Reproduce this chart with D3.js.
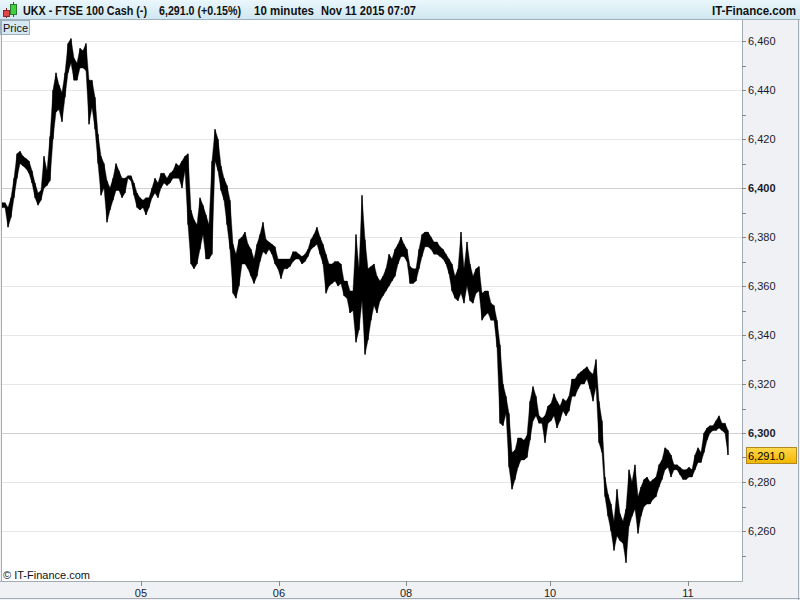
<!DOCTYPE html>
<html><head><meta charset="utf-8">
<script src="https://cdn.jsdelivr.net/npm/d3@7"></script>
<style>html,body{margin:0;padding:0;background:#fff;}svg{display:block;font-family:"Liberation Sans",Arial,sans-serif;}</style>
</head><body>
<svg id="c" width="800" height="600"></svg>
<script>
// 10-minute bars, high and low
const highs = [6394,6394,6392,6396,6404,6414,6415,6413,6412,6411,6407,6402,6398,6399,6413,6407,6421,6440,6447,6442,
6439,6447,6459,6461,6453,6451,6457,6456,6459,6444,6444,6437,6422,6413,6410,6403,6400,6404,6410,6407,
6404,6404,6405,6405,6402,6398,6396,6395,6396,6396,6400,6404,6402,6406,6406,6404,6406,6407,6410,6409,
6411,6413,6414,6391,6387,6385,6396,6393,6389,6385,6411,6424,6420,6409,6404,6401,6395,6377,6373,6379,
6380,6382,6377,6375,6371,6377,6381,6386,6379,6378,6377,6376,6371,6371,6371,6371,6371,6374,6374,6373,
6372,6373,6375,6379,6381,6384,6380,6377,6373,6369,6369,6370,6370,6369,6362,6362,6358,6358,6381,6367,
6397,6379,6367,6368,6369,6364,6362,6364,6367,6373,6371,6375,6377,6380,6377,6375,6368,6367,6367,6375,
6381,6382,6382,6380,6378,6378,6376,6375,6373,6371,6369,6364,6367,6382,6367,6378,6369,6364,6367,6368,
6357,6358,6358,6353,6352,6346,6336,6320,6315,6308,6292,6293,6298,6298,6297,6299,6313,6319,6315,6307,
6306,6307,6311,6312,6316,6313,6311,6314,6313,6315,6322,6322,6324,6325,6326,6327,6325,6324,6330,6313,
6305,6282,6275,6271,6264,6277,6267,6264,6269,6285,6280,6287,6274,6278,6281,6282,6280,6281,6282,6287,
6289,6294,6293,6291,6287,6287,6286,6285,6285,6286,6285,6291,6294,6292,6300,6302,6303,6303,6305,6307,
6304,6304,6301];
const lows = [6392,6392,6384,6388,6396,6404,6410,6409,6408,6406,6402,6396,6393,6395,6400,6401,6403,6420,6431,6432,
6427,6437,6447,6451,6444,6444,6449,6449,6448,6426,6433,6424,6410,6397,6400,6386,6391,6395,6399,6399,
6396,6398,6404,6403,6397,6392,6391,6392,6389,6392,6396,6398,6396,6400,6402,6401,6402,6404,6404,6404,
6400,6407,6385,6369,6367,6369,6375,6381,6371,6371,6373,6411,6407,6399,6395,6385,6375,6357,6355,6360,
6369,6369,6367,6364,6361,6364,6370,6374,6373,6375,6373,6369,6367,6363,6367,6367,6368,6370,6371,6371,
6369,6370,6372,6375,6376,6377,6373,6369,6357,6360,6361,6362,6360,6361,6356,6355,6349,6350,6337,6342,
6354,6332,6338,6346,6352,6349,6354,6356,6358,6360,6362,6364,6369,6372,6372,6370,6361,6361,6362,6367,
6372,6376,6376,6375,6373,6373,6372,6371,6369,6365,6358,6355,6354,6357,6353,6360,6354,6353,6357,6358,
6346,6348,6349,6346,6346,6335,6304,6303,6308,6286,6277,6281,6286,6289,6289,6290,6297,6305,6307,6304,
6304,6296,6304,6305,6307,6302,6305,6309,6307,6309,6315,6315,6318,6320,6320,6322,6318,6313,6319,6296,
6292,6274,6266,6260,6252,6258,6256,6255,6247,6262,6266,6269,6259,6266,6270,6271,6271,6273,6274,6278,
6281,6285,6286,6282,6285,6285,6283,6281,6281,6282,6282,6285,6288,6288,6292,6297,6300,6301,6301,6302,
6301,6300,6291];
const yTicks = [6260,6280,6300,6320,6340,6360,6380,6400,6420,6440,6460];
const yMinor = [6250,6270,6290,6310,6330,6350,6370,6390,6410,6430,6450];
const boldTicks = [6300,6400];
const dayLabels = ["05","06","08","10","11"];
const dayIdx = [46.33,92.33,134.67,182.67,228.67];
const lastPrice = 6291.0;
const titleParts = ["UKX - FTSE 100 Cash (-)","6,291.0 (+0.15%)","10 minutes","Nov 11 2015 07:07"];

const svg = d3.select("#c");
const L = 1, R = 742, T = 20, B = 581;
const x = d3.scaleLinear().domain([0, highs.length-1]).range([2, 728]);
const y = d3.scaleLinear().domain([6260, 6460]).range([531, 41]);
const fmt = d3.format(",");

// background
svg.append("rect").attr("width",800).attr("height",600).attr("fill","#eff1f4");
svg.append("rect").attr("x",L).attr("y",T).attr("width",R-L).attr("height",B-T).attr("fill","#fff");

// header
const defs = svg.append("defs");
const g = defs.append("linearGradient").attr("id","hdr").attr("x1",0).attr("y1",0).attr("x2",0).attr("y2",1);
g.append("stop").attr("offset","0%").attr("stop-color","#eaf7fc");
g.append("stop").attr("offset","100%").attr("stop-color","#cfe6f0");
const pg = defs.append("linearGradient").attr("id","tag").attr("x1",0).attr("y1",0).attr("x2",0).attr("y2",1);
pg.append("stop").attr("offset","0%").attr("stop-color","#ffd84a");
pg.append("stop").attr("offset","100%").attr("stop-color","#f2b600");
svg.append("rect").attr("x",0).attr("y",0).attr("width",800).attr("height",20).attr("fill","url(#hdr)");
svg.append("line").attr("x1",0).attr("x2",800).attr("y1",19.5).attr("y2",19.5).attr("stroke","#9fb0bb");
// icon
svg.append("line").attr("x1",6.5).attr("x2",6.5).attr("y1",8).attr("y2",18).attr("stroke","#7a2020");
svg.append("rect").attr("x",3.5).attr("y",10.5).attr("width",6).attr("height",6).attr("fill","#e04848").attr("stroke","#8a2a2a");
svg.append("line").attr("x1",13.5).attr("x2",13.5).attr("y1",2).attr("y2",17).attr("stroke","#206020");
svg.append("rect").attr("x",10.5).attr("y",4.5).attr("width",6).attr("height",10).attr("fill","#40d040").attr("stroke","#2a7a2a");
const tx = [23,159,254,321], tw = [124,82,60,95];
titleParts.forEach((t,i)=>svg.append("text").attr("x",tx[i]).attr("y",15).attr("font-size",12).attr("font-weight","bold")
  .attr("textLength",tw[i]).attr("lengthAdjust","spacingAndGlyphs").attr("fill","#111").text(t));
svg.append("text").attr("x",712).attr("y",15).attr("font-size",12).attr("font-weight","bold")
  .attr("textLength",84).attr("lengthAdjust","spacingAndGlyphs").attr("fill","#111").text("IT-Finance.com");

// gridlines
svg.append("g").selectAll("line").data(yTicks).join("line")
  .attr("x1",L).attr("x2",R).attr("y1",v=>Math.round(y(v))+0.5).attr("y2",v=>Math.round(y(v))+0.5)
  .attr("stroke",v=>boldTicks.includes(v)?"#cfcfcf":"#e6e6e6");

// Price label
svg.append("rect").attr("x",0.5).attr("y",20.5).attr("width",29).attr("height",14).attr("fill","#d6e8f2").attr("stroke","#9fb0bb");
svg.append("text").attr("x",3).attr("y",31.5).attr("font-size",11).attr("fill","#111").text("Price");

// price band: filled high-low ribbon plus bar ticks
const idx = d3.range(highs.length);
const area = d3.area().x(i=>x(i)).y0(i=>y(lows[i])).y1(i=>y(highs[i]));
svg.append("path").attr("d",area(idx)).attr("fill","#000").attr("stroke","#000").attr("stroke-width",0.4);
svg.append("g").selectAll("line").data(idx).join("line")
  .attr("x1",i=>x(i)).attr("x2",i=>x(i)).attr("y1",i=>y(highs[i])).attr("y2",i=>y(lows[i]))
  .attr("stroke","#000").attr("stroke-width",1.2);

// plot border
svg.append("line").attr("x1",1.5).attr("x2",1.5).attr("y1",T).attr("y2",B).attr("stroke","#a3acb4");
svg.append("line").attr("x1",R+0.5).attr("x2",R+0.5).attr("y1",T).attr("y2",B+0.5).attr("stroke","#a3acb4");
svg.append("line").attr("x1",0).attr("x2",R+0.5).attr("y1",B+0.5).attr("y2",B+0.5).attr("stroke","#a3acb4");

// right axis
const ya = svg.append("g").attr("transform",`translate(${R},0)`);
ya.selectAll("line.t").data(yTicks.concat(yMinor)).join("line")
  .attr("x1",0).attr("x2",4).attr("y1",v=>Math.round(y(v))+0.5).attr("y2",v=>Math.round(y(v))+0.5).attr("stroke","#888");
ya.selectAll("text").data(yTicks).join("text")
  .attr("x",6).attr("y",v=>y(v)+4).attr("font-size",11).attr("fill","#1a1a2a")
  .attr("font-weight",v=>boldTicks.includes(v)?"bold":"normal").text(v=>fmt(v));

// last price tag
const ly = y(lastPrice);
svg.append("rect").attr("x",746.5).attr("y",Math.round(ly)-7.5).attr("width",50).attr("height",16).attr("fill","url(#tag)").attr("stroke","#b08a20");
svg.append("text").attr("x",748).attr("y",ly+5).attr("font-size",11).attr("fill","#000").text(d3.format(",.1f")(lastPrice));

// bottom axis
const xa = svg.append("g");
xa.selectAll("line").data(dayIdx).join("line")
  .attr("x1",v=>Math.round(x(v))+0.5).attr("x2",v=>Math.round(x(v))+0.5).attr("y1",B).attr("y2",B+5).attr("stroke","#888");
xa.selectAll("text").data(dayLabels).join("text")
  .attr("x",(v,i)=>x(dayIdx[i])).attr("y",597).attr("text-anchor","middle").attr("font-size",11).attr("fill","#1a1a2a").text(v=>v);

svg.append("text").attr("x",3).attr("y",579).attr("font-size",11).attr("fill","#111").text("© IT-Finance.com");

// outer border
svg.append("line").attr("x1",0).attr("x2",800).attr("y1",598.5).attr("y2",598.5).attr("stroke","#a3acb4");
svg.append("line").attr("x1",798.5).attr("x2",798.5).attr("y1",20).attr("y2",600).attr("stroke","#a3acb4");
</script>
</body></html>
